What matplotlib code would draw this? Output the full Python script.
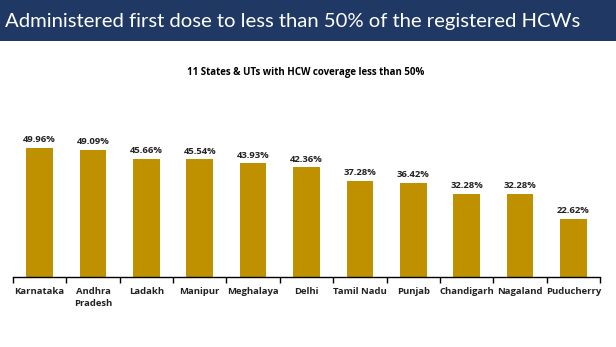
import numpy as np
import matplotlib.pyplot as plt
from matplotlib.patches import Rectangle

# states / UTs with HCW first-dose coverage below 50%
states = ["Karnataka", "Andhra\nPradesh", "Ladakh", "Manipur", "Meghalaya", "Delhi",
          "Tamil Nadu", "Punjab", "Chandigarh", "Nagaland", "Puducherry"]
coverage = [49.96, 49.09, 45.66, 45.54, 43.93, 42.36, 37.28, 36.42, 32.28, 32.28, 22.62]

title = "Administered first dose to less than 50% of the registered HCWs"
subtitle = "11 States & UTs with HCW coverage less than 50%"

W, H = 616, 347
fig = plt.figure(figsize=(W / 100, H / 100), dpi=100)
fig.patch.set_facecolor("white")

# header band
fig.patches.append(Rectangle((0, 1 - 41 / H), 1, 41 / H, transform=fig.transFigure,
                             facecolor="#1F3864", edgecolor="none", zorder=0))
fig.text(5 / W, 1 - 21 / H, title, color="white", fontsize=14.6, family="Lato",
         ha="left", va="center")
fig.text(306 / W, 1 - 72 / H, subtitle, color="black", fontsize=7.0, family="Open Sans",
         weight="bold", ha="center", va="center")

ax = fig.add_axes([13 / W, 70 / H, 587 / W, 150 / H])
x = np.arange(len(states))
bars = ax.bar(x, coverage, width=0.5, color="#BF9000")
for xi, v in zip(x, coverage):
    ax.text(xi, v + 1.4, f"{v:.2f}%", ha="center", va="bottom", fontsize=6.8,
            family="Open Sans", weight="bold", color="#222222")

ax.set_xlim(-0.5, len(states) - 0.5)
ax.set_ylim(0, 58)
ax.set_yticks([])
for s in ["top", "right", "left"]:
    ax.spines[s].set_visible(False)
ax.spines["bottom"].set_linewidth(1.0)

ax.set_xticks(np.arange(len(states) + 1) - 0.5)
ax.set_xticklabels([])
ax.tick_params(axis="x", which="major", length=4, width=1, direction="out")
ax.set_xticks(x, minor=True)
ax.set_xticklabels(states, minor=True, fontsize=6.8, family="Open Sans", weight="bold",
                   color="#222222", linespacing=1.4)
ax.tick_params(axis="x", which="minor", length=0, pad=7)

fig.savefig("out.png", dpi=100)
